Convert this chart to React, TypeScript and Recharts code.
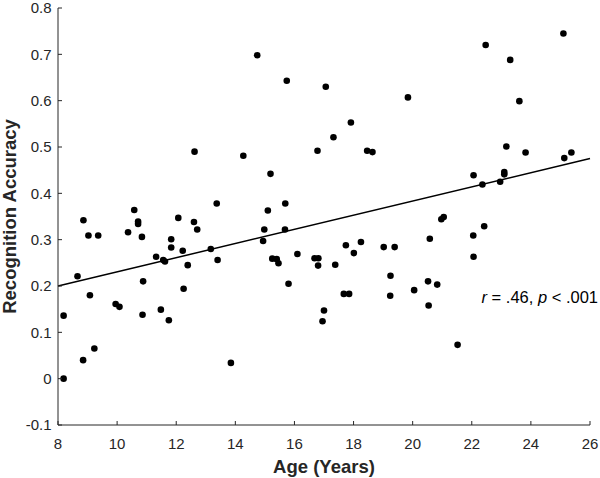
import { ScatterChart, Scatter, XAxis, YAxis, ReferenceLine, ReferenceDot } from 'recharts';

const ages = [
  8.19, 8.19, 8.66, 8.86, 8.85, 9.03, 9.08, 9.23, 9.36, 9.95,
  10.08, 10.37, 10.58, 10.71, 10.71, 10.84, 10.88, 10.86, 11.32, 11.48,
  11.56, 11.62, 11.75, 11.83, 11.83, 12.07, 12.22, 12.25, 12.39, 12.62,
  12.6, 12.71, 13.37, 13.17, 13.4, 13.85, 14.27, 14.74, 15.74, 17.06,
  19.84, 17.91, 17.32, 16.78, 18.46, 18.64, 15.19, 15.69, 15.1, 14.98,
  15.68, 14.94, 16.1, 15.25, 15.4, 15.46, 16.68, 16.81, 16.8, 17.38,
  17.74, 18.01, 18.25, 19.02, 19.39, 19.25, 19.24, 20.05, 15.8, 17.67,
  17.85, 17.0, 16.95, 25.1, 22.47, 23.3, 23.61, 23.17, 23.82, 25.13,
  25.37, 22.06, 23.1, 23.1, 22.36, 22.96, 21.05, 20.97, 22.42, 20.58,
  22.05, 22.06, 20.52, 20.83, 20.54, 21.52,
];

const accuracy = [
  0.136, 0.0, 0.221, 0.342, 0.04, 0.309, 0.18, 0.065, 0.309, 0.161,
  0.155, 0.316, 0.364, 0.339, 0.334, 0.306, 0.21, 0.138, 0.263, 0.149,
  0.256, 0.253, 0.126, 0.301, 0.283, 0.347, 0.276, 0.194, 0.245, 0.49,
  0.338, 0.322, 0.378, 0.28, 0.256, 0.034, 0.481, 0.698, 0.643, 0.63,
  0.607, 0.553, 0.521, 0.492, 0.492, 0.489, 0.442, 0.378, 0.363, 0.322,
  0.322, 0.297, 0.269, 0.259, 0.258, 0.249, 0.26, 0.26, 0.244, 0.246,
  0.288, 0.271, 0.295, 0.284, 0.284, 0.222, 0.179, 0.191, 0.205, 0.183,
  0.183, 0.147, 0.124, 0.745, 0.72, 0.688, 0.599, 0.501, 0.488, 0.476,
  0.488, 0.439, 0.446, 0.441, 0.419, 0.425, 0.349, 0.344, 0.329, 0.302,
  0.309, 0.263, 0.21, 0.203, 0.158, 0.073,
];

const xTicks = [8, 10, 12, 14, 16, 18, 20, 22, 24, 26];
const yTicks = [-0.1, 0, 0.1, 0.2, 0.3, 0.4, 0.5, 0.6, 0.7, 0.8];

// fitted line endpoints
const fitStart = { x: 8, y: 0.2 };
const fitEnd = { x: 26, y: 0.475 };

const statX = 22.33;
const statY = 0.177;

const data = ages.map((a, i) => ({ age: a, acc: accuracy[i] }));

const FONT = 'Arial, "Liberation Sans", Helvetica, sans-serif';
const AXIS = '#262626';

const Dot = (props: any) => <circle cx={props.cx} cy={props.cy} r={3.3} fill="#000" />;

const XTick = ({ x, y, payload }: any) => (
  <g>
    <line x1={x} y1={y} x2={x} y2={y - 4} stroke={AXIS} strokeWidth={1} />
    <text x={x} y={y + 24} textAnchor="middle" fill={AXIS} fontSize={15} fontFamily={FONT}>
      {payload.value}
    </text>
  </g>
);

const YTick = ({ x, y, payload }: any) => (
  <g>
    <line x1={x} y1={y} x2={x + 4} y2={y} stroke={AXIS} strokeWidth={1} />
    <text x={x - 6.5} y={y} dy="0.36em" textAnchor="end" fill={AXIS} fontSize={15} fontFamily={FONT}>
      {payload.value}
    </text>
  </g>
);

const StatLabel = ({ viewBox }: any) => (
  <text x={viewBox.x} y={viewBox.y} dy="0.36em" fill="#000" fontSize={16.5} fontFamily={FONT}>
    <tspan fontStyle="italic">r</tspan>
    <tspan> = .46, </tspan>
    <tspan fontStyle="italic">p</tspan>
    <tspan> &lt; .001</tspan>
  </text>
);

export default function App() {
  return (
    <div style={{ position: 'absolute', left: 0, top: 0, background: '#fff' }}>
      <ScatterChart width={600} height={478} margin={{ top: 8, right: 10, bottom: 0, left: 0 }}>
        <XAxis
          type="number"
          dataKey="age"
          domain={[8, 26]}
          ticks={xTicks}
          tick={<XTick />}
          tickLine={false}
          tickSize={0}
          tickMargin={0}
          height={53}
          stroke={AXIS}
          interval={0}
          allowDataOverflow
          label={{
            content: ({ viewBox }: any) => (
              <text
                x={viewBox.x + viewBox.width / 2}
                y={473}
                textAnchor="middle"
                fill={AXIS}
                fontSize={18.5}
                fontWeight="bold"
                fontFamily={FONT}
              >
                Age (Years)
              </text>
            ),
          }}
        />
        <YAxis
          type="number"
          dataKey="acc"
          domain={[-0.1, 0.8]}
          ticks={yTicks}
          tick={<YTick />}
          tickLine={false}
          tickSize={0}
          tickMargin={0}
          width={58}
          stroke={AXIS}
          interval={0}
          allowDataOverflow
          label={{
            content: ({ viewBox }: any) => {
              const cy = viewBox.y + viewBox.height / 2;
              return (
                <text
                  x={16}
                  y={cy}
                  transform={`rotate(-90 16 ${cy})`}
                  textAnchor="middle"
                  fill={AXIS}
                  fontSize={18.5}
                  fontWeight="bold"
                  fontFamily={FONT}
                >
                  Recognition Accuracy
                </text>
              );
            },
          }}
        />
        <ReferenceLine
          segment={[fitStart, fitEnd]}
          stroke="#000"
          strokeWidth={1.5}
          ifOverflow="visible"
        />
        <Scatter data={data} shape={<Dot />} isAnimationActive={false} />
        <ReferenceDot
          x={statX}
          y={statY}
          r={0}
          fill="none"
          stroke="none"
          ifOverflow="visible"
          label={<StatLabel />}
        />
      </ScatterChart>
    </div>
  );
}
